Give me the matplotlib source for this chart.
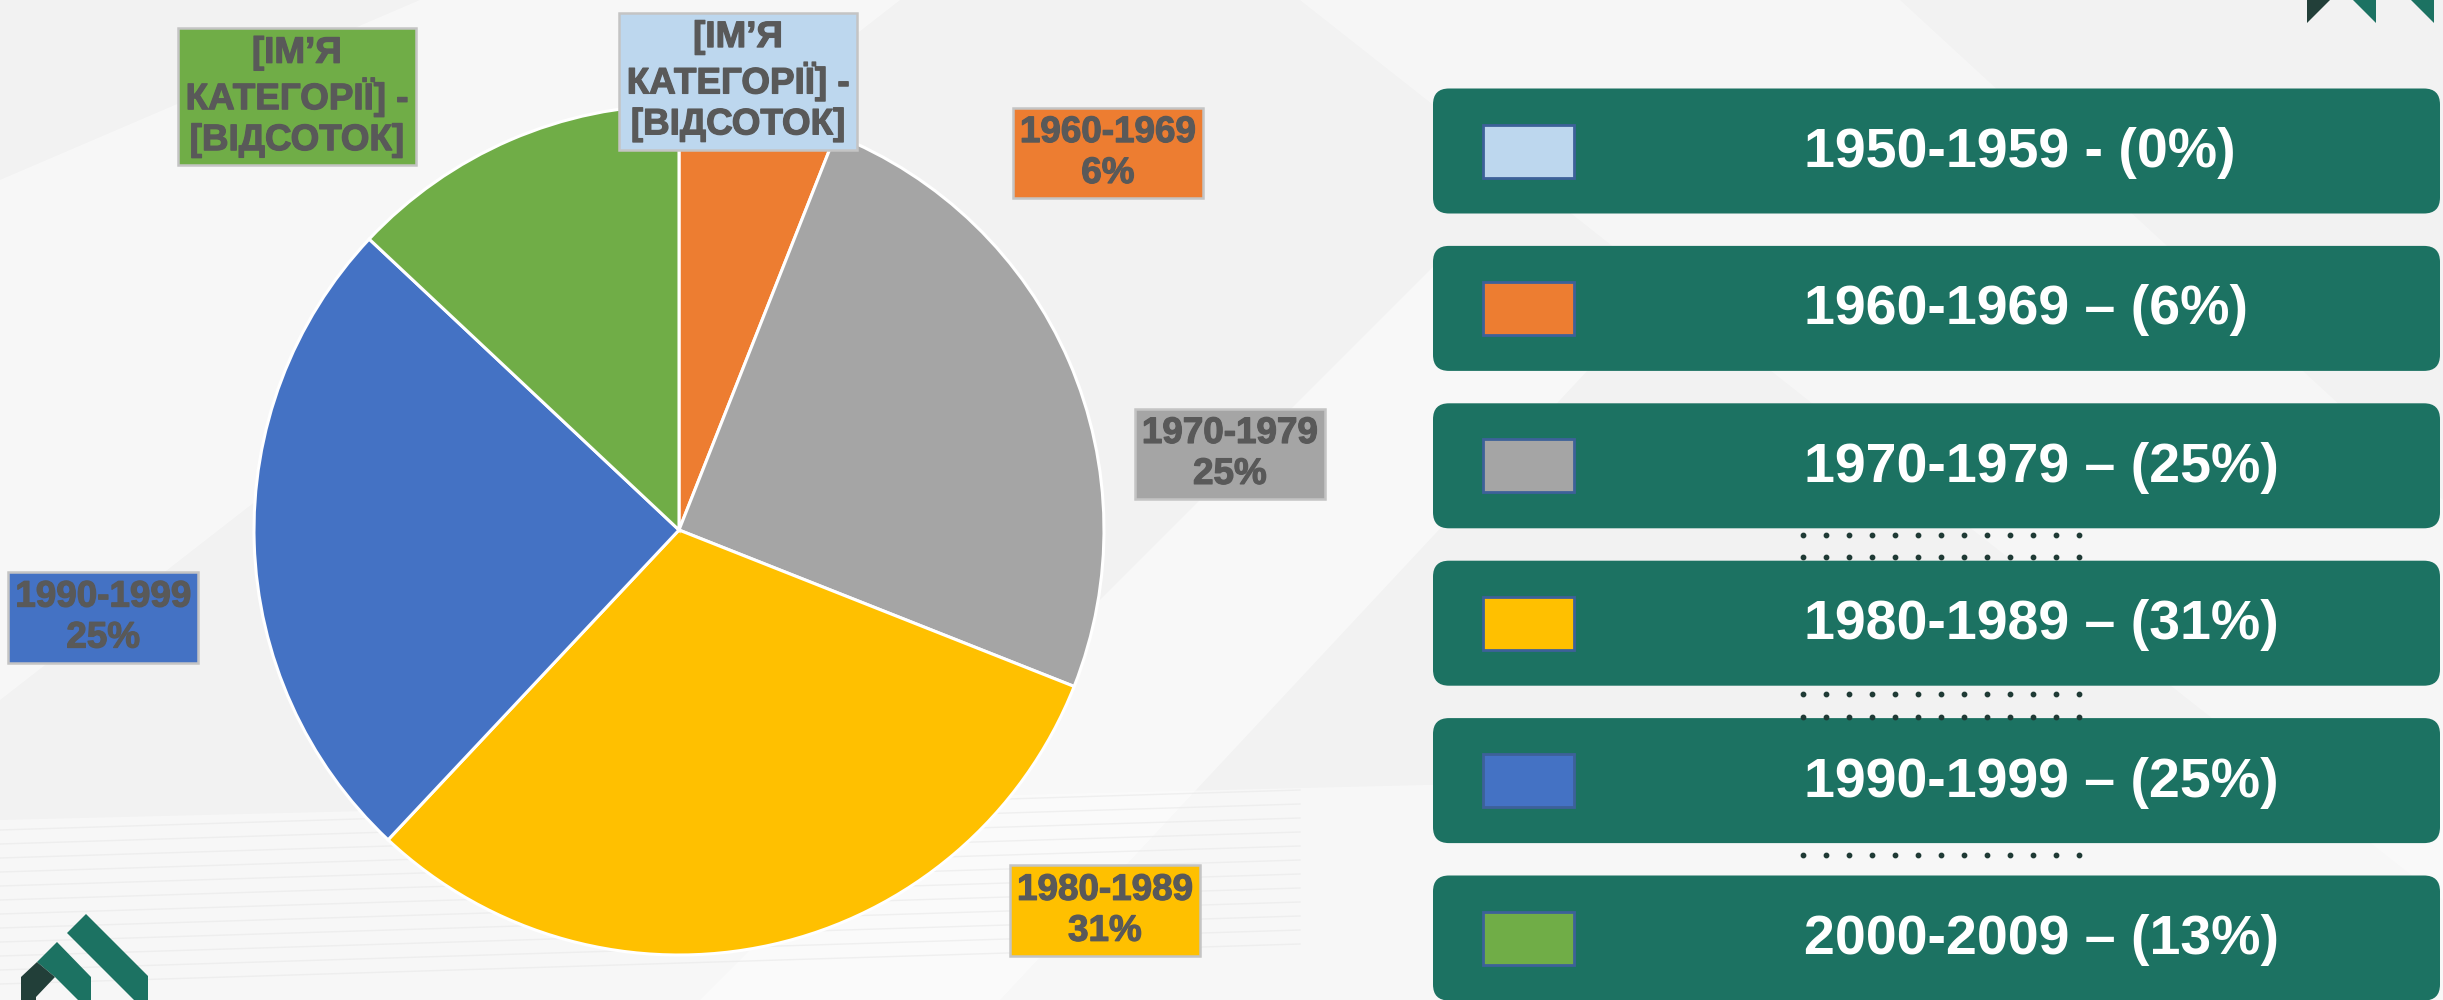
import matplotlib.pyplot as plt
import matplotlib.patheffects as pe
from matplotlib.patches import FancyBboxPatch, Rectangle, Polygon

# Data
categories = ["1950-1959", "1960-1969", "1970-1979", "1980-1989", "1990-1999", "2000-2009"]
values = [0, 6, 25, 31, 25, 13]
colors = ["#bdd7ee", "#ed7d31", "#a5a5a5", "#ffc000", "#4472c4", "#70ad47"]
data_labels = [
    "[ІМ’Я\nКАТЕГОРІЇ] -\n[ВІДСОТОК]",
    "1960-1969\n6%",
    "1970-1979\n25%",
    "1980-1989\n31%",
    "1990-1999\n25%",
    "[ІМ’Я\nКАТЕГОРІЇ] -\n[ВІДСОТОК]",
]
legend_labels = [
    "1950-1959 - (0%)",
    "1960-1969 – (6%)",
    "1970-1979 – (25%)",
    "1980-1989 – (31%)",
    "1990-1999 – (25%)",
    "2000-2009 – (13%)",
]

# label positions, in pie radius units from the centre
label_xy = [(0.139, 1.056), (1.009, 0.887), (1.296, 0.179),
            (1.002, -0.896), (-1.355, -0.206), (-0.899, 1.019)]

W, H = 2443, 1000
TEAL = "#1c7262"
FONT = ["Liberation Sans", "DejaVu Sans"]

fig = plt.figure(figsize=(W / 100, H / 100), dpi=100)
fig.patch.set_facecolor("#f2f2f2")

# background / decoration layer in pixel coords (y down)
bg = fig.add_axes([0, 0, 1, 1])
bg.set_xlim(0, W)
bg.set_ylim(H, 0)
bg.axis("off")

# soft white shapes in the background
for pts, a in [
    ([(0, 180), (420, 0), (900, 0), (0, 700)], 0.45),
    ([(700, 1000), (1450, 250), (1700, 250), (1000, 1000)], 0.5),
    ([(1300, 0), (1900, 0), (2443, 500), (2443, 900)], 0.35),
    ([(0, 820), (2443, 760), (2443, 1000), (0, 1000)], 0.4),
]:
    bg.add_patch(Polygon(pts, closed=True, facecolor="white", edgecolor="none", alpha=a))
for k in range(12):
    y0 = 830 + k * 14
    bg.plot([0, 1300], [y0, y0 - 40], color="#e8e8e8", lw=1.0, alpha=0.6, zorder=1)

# legend panels
row0, step, ph = 151, 157.4, 125
for i, (lab, col) in enumerate(zip(legend_labels, colors)):
    cy = row0 + i * step
    bg.add_patch(FancyBboxPatch((1433, cy - ph / 2), 1007, ph,
                                boxstyle="round,pad=0,rounding_size=16",
                                facecolor=TEAL, edgecolor="none", zorder=2))
    bg.add_patch(Rectangle((1483, cy - 26.5), 91, 53, facecolor=col,
                           edgecolor="#3d6199", lw=2, zorder=3))
    bg.text(1804, cy + 2, lab, color="white", fontsize=40, fontweight="bold",
            family=FONT, ha="left", va="center", zorder=4)

# dotted separators
for yd in [535, 557, 694, 717, 855]:
    xs = [1803 + 23 * j for j in range(13)]
    bg.scatter(xs, [yd] * len(xs), s=10, color="#1f3a35", zorder=3)

# logos
logo = [
    ([(2307, 0), (2330, 0), (2307, 23)], "#223f39"),
    ([(2353, 0), (2376, 0), (2376, 23)], TEAL),
    ([(2411, 0), (2434, 0), (2434, 23)], TEAL),
    ([(67, 933), (86, 914), (148, 976), (148, 1000), (134, 1000)], TEAL),
    ([(37, 962), (57, 942), (91, 977), (91, 1000), (78, 1000), (55, 977)], TEAL),
    ([(21, 977), (37, 962), (55, 977), (36, 997), (36, 1000), (21, 1000)], "#223f39"),
]
for pts, c in logo:
    bg.add_patch(Polygon(pts, facecolor=c, edgecolor="none", zorder=5))

# pie axes: centre at (679, 530) px, radius 425 px
R, cx, cy = 425, 679, 530
ax = fig.add_axes([0, 0, 1400 / W, 1])
ax.pie(values, colors=colors, startangle=90, counterclock=False, radius=1,
       wedgeprops=dict(edgecolor="white", linewidth=2.2), normalize=True)
ax.set_aspect("auto")
ax.set_xlim(-cx / R, (1400 - cx) / R)
ax.set_ylim(-(H - cy) / R, cy / R)
ax.axis("off")
ax.patch.set_alpha(0)

for txt, col, (lx, ly) in zip(data_labels, colors, label_xy):
    ax.text(lx, ly, txt, ha="center", va="center", fontsize=26.5, fontweight="bold",
            family=FONT, color="#595959", linespacing=1.22, clip_on=False,
            path_effects=[pe.withStroke(linewidth=0.9, foreground="#595959")],
            bbox=dict(boxstyle="square,pad=0.2", facecolor=col,
                      edgecolor="#c4c4c4", linewidth=1.8))

fig.savefig("out.png", dpi=100, facecolor=fig.get_facecolor())
